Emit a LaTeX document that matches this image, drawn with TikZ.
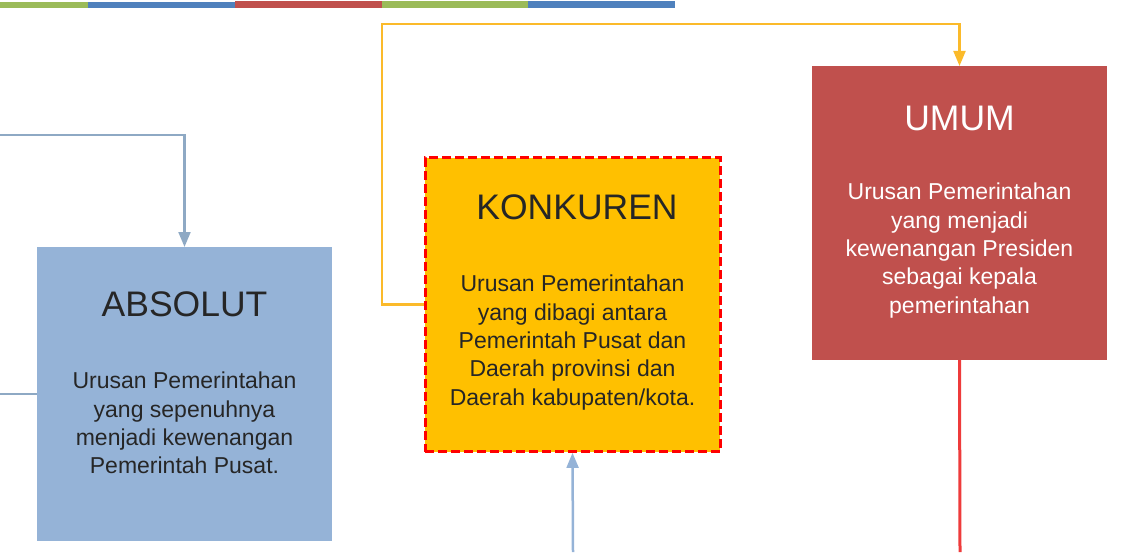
\documentclass[tikz,border=0pt]{standalone}
\usepackage{fontspec}
\setmainfont{Liberation Sans}
\usetikzlibrary{arrows}
\definecolor{barGreen}{HTML}{9BBB59}
\definecolor{barBlue}{HTML}{4F81BD}
\definecolor{barRed}{HTML}{C0504D}
\definecolor{absBlue}{HTML}{95B3D7}
\definecolor{konYellow}{HTML}{FFC000}
\definecolor{umRed}{HTML}{C0504D}
\definecolor{linkBlue}{HTML}{8EA9C4}
\definecolor{linkLight}{HTML}{95B3D7}
\definecolor{linkYellow}{HTML}{FBBA2A}
\definecolor{linkRed}{HTML}{EE3B3B}
\definecolor{darkText}{HTML}{262626}
\tikzstyle{urusan} = [rectangle, minimum width=295, minimum height=294, inner sep=0pt]
\tikzstyle{boxtitle} = [font=\fontsize{35.5}{42}\selectfont, text=darkText]
\tikzstyle{boxtext} = [align=center, font=\fontsize{23}{28.3}\selectfont, text=darkText]
\tikzstyle{link} = [line width=2.5pt]
\tikzstyle{arrow} = [line width=2.5pt,->,>=triangle 45]

\begin{document}
\begin{tikzpicture}[x=1pt, y=-1pt]
\useasboundingbox (0,0) rectangle (1123,552);

% Top bar
\fill [barGreen] (0,2) rectangle (88,8);
\fill [barBlue] (88,2) rectangle (235,8);
\fill [barRed] (235,1) rectangle (382,8);
\fill [barGreen] (382,1) rectangle (528,8);
\fill [barBlue] (528,1) rectangle (675,8);

% Absolut
\node (absolut) [urusan, fill=absBlue] at (184.5,394) {};
\node (absolutT) [boxtitle] at (184.5,304) {ABSOLUT};
\node (absolutB) [boxtext] at (184.5,423) {Urusan Pemerintahan\\yang sepenuhnya\\menjadi kewenangan\\Pemerintah Pusat.};

% Konkuren
\node (konkuren) [urusan, fill=konYellow, draw=red, line width=3pt, dash pattern=on 9pt off 4pt] at (572.5,304.5) {};
\node (konkurenT) [boxtitle] at (577,207) {KONKUREN};
\node (konkurenB) [boxtext] at (572.5,342.5) {Urusan Pemerintahan\\yang dibagi antara\\Pemerintah Pusat dan\\Daerah provinsi dan\\Daerah kabupaten/kota.};

% Umum
\node (umum) [urusan, fill=umRed] at (959.5,213) {};
\node (umumT) [boxtitle, text=white] at (959.5,118) {UMUM};
\node (umumB) [boxtext, text=white] at (959.5,250.5) {Urusan Pemerintahan\\yang menjadi\\kewenangan Presiden\\sebagai kepala\\pemerintahan};

% Free ends
\coordinate (inA) at (0,135);
\coordinate (inB) at (0,394);
\coordinate (inK) at (573,552);
\coordinate (outU) at (960,552);
\coordinate (bend) at (382,24);

% Connecting lines
\draw [arrow, linkBlue] (inA) -| (absolut.north);
\draw [link, linkBlue] (inB) -- (absolut.west);
\draw [arrow, linkYellow] (konkuren.west) -| (bend) -| (umum.north);
\draw [arrow, linkLight] (inK) -- (konkuren.south);
\draw [link, linkRed, line width=3pt] (umum.south) -- (outU);

\end{tikzpicture}
\end{document}
